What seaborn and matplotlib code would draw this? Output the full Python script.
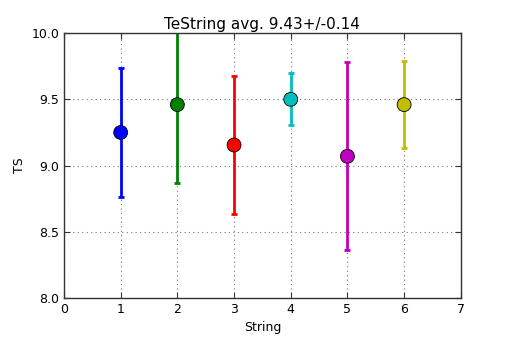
import matplotlib
matplotlib.use("Agg")
import matplotlib.pyplot as plt
import seaborn as sns
import pandas as pd

strings = [1, 2, 3, 4, 5, 6]
ts_mean = [9.25, 9.46, 9.155, 9.50, 9.07, 9.46]
ts_err = [0.485, 0.595, 0.52, 0.197, 0.71, 0.33]
colors = ["#0000ff", "#008000", "#ff0000", "#00bfbf", "#bf00bf", "#bfbf00"]
title = "TeString avg. 9.43+/-0.14"

sns.set_style("white")
plt.rcParams["font.family"] = ["DejaVu Sans"]
plt.rcParams["text.color"] = "black"
plt.rcParams["axes.labelcolor"] = "black"
plt.rcParams["xtick.color"] = "black"
plt.rcParams["ytick.color"] = "black"

df = pd.DataFrame({"String": strings, "TS": ts_mean, "err": ts_err})

fig = plt.figure(figsize=(5.12, 3.41), dpi=100)
ax = fig.add_axes([0.125, 0.126, 0.775, 0.777])

for x, y, e, c in zip(strings, ts_mean, ts_err, colors):
    ax.errorbar(x, y, yerr=e, fmt="none", ecolor=c, elinewidth=2, capsize=2.5, capthick=2, zorder=2)

sns.scatterplot(data=df, x="String", y="TS", hue="String", palette=colors,
                s=100, edgecolor="black", linewidth=0.6, legend=False, ax=ax, zorder=3)

ax.set_xlim(0, 7)
ax.set_ylim(8.0, 10.0)
ax.set_xticks(range(0, 8))
ax.set_yticks([8.0, 8.5, 9.0, 9.5, 10.0])
ax.set_yticklabels(["8.0", "8.5", "9.0", "9.5", "10.0"])
ax.grid(True, linestyle=(0, (1, 3)), color="#777777", linewidth=0.8)
ax.set_axisbelow(True)
for s in ax.spines.values():
    s.set_visible(True)
    s.set_color("#333333")
    s.set_linewidth(1.0)
ax.tick_params(direction="in", length=4, width=0.8, labelsize=9, top=True, right=True,
               bottom=True, left=True, color="#333333", labelcolor="black")
ax.set_xlabel("String", fontsize=9, color="black")
ax.set_ylabel("TS", fontsize=9, color="black")
ax.set_title(title, fontsize=11, pad=3, color="black")

fig.savefig("out.png", dpi=100)
